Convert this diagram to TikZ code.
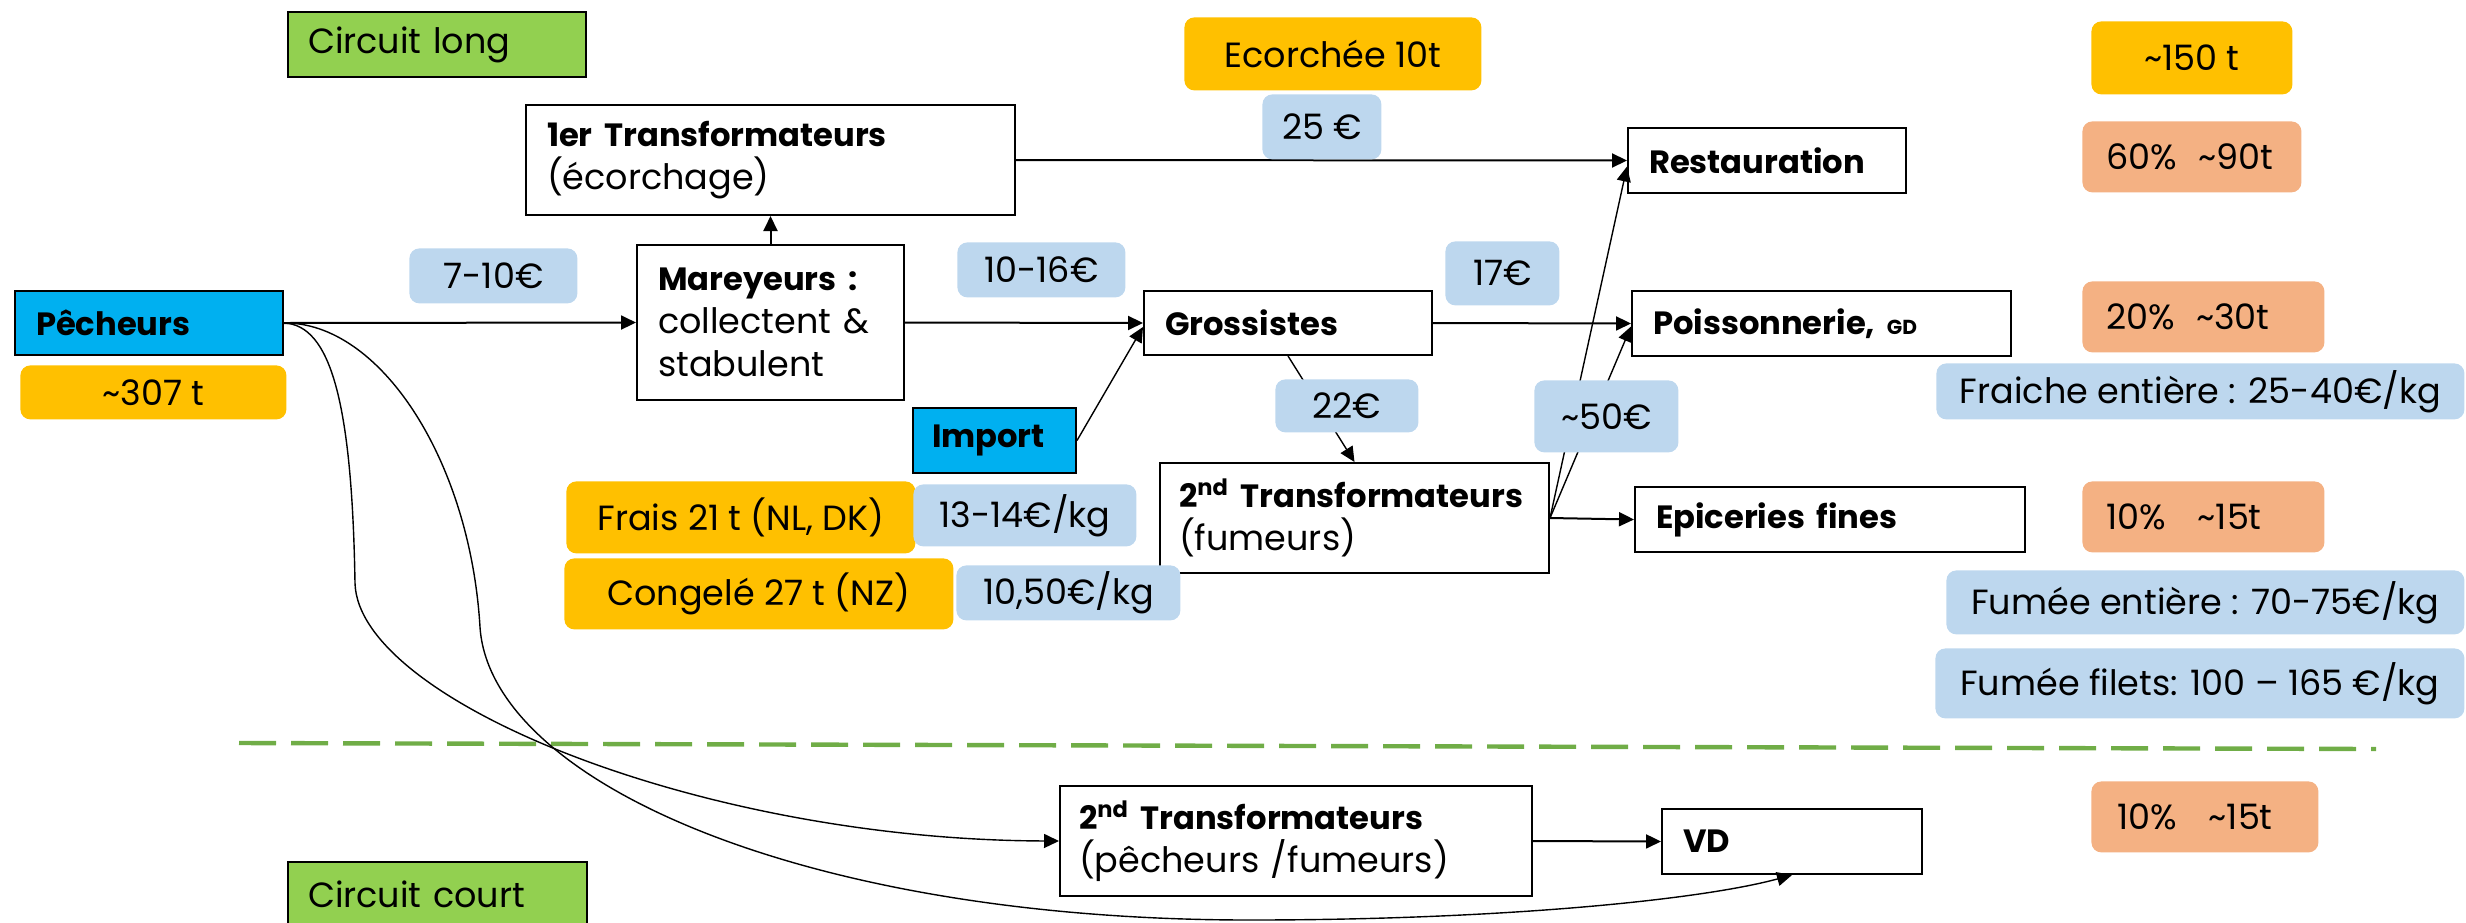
\documentclass[tikz,border=0pt]{standalone}
\usepackage{fontspec}
\setmainfont{Poppins}[BoldFeatures={Scale=0.92}]
\usetikzlibrary{arrows.meta}
\definecolor{corange}{HTML}{FFC000}
\definecolor{cblue}{HTML}{BDD7EE}
\definecolor{csalmon}{HTML}{F4B183}
\definecolor{cgreen}{HTML}{92D050}
\definecolor{ccyan}{HTML}{00B0F0}
\definecolor{cdash}{HTML}{70AD47}
\begin{document}
\begin{tikzpicture}[x=0.5pt,y=-0.5pt,
  font=\fontsize{17.5}{21.5}\selectfont,
  wbox/.style={draw=black, line width=1pt, fill=white, anchor=north west, inner xsep=10.5pt, inner ysep=0pt, align=left},
  cyanbox/.style={wbox, fill=ccyan},
  greenbox/.style={wbox, fill=cgreen, inner xsep=10pt},
  lab/.style={fill=#1, rounded corners=5pt, anchor=north west, inner sep=0pt, align=center},
  plab/.style={fill=csalmon, rounded corners=5pt, anchor=north west, inner ysep=0pt, inner xsep=12pt, align=left},
  main/.style={line width=1pt, -{Triangle[length=7.5pt,width=7pt]}},
  slim/.style={line width=0.7pt, -{Triangle[length=7.5pt,width=7pt]}}
]
\useasboundingbox (0,0) rectangle (2466,922);
\clip (0,0) rectangle (2466,922);

% structural boxes
\node[greenbox, text width=129pt, minimum height=32.5pt] (long) at (287,11) {Circuit long};
\node[wbox, text width=223.5pt, minimum height=55pt] (t1) at (525,104) {\textbf{1er Transformateurs}\\(écorchage)};
\node[wbox, text width=112.5pt, minimum height=77.5pt] (mar) at (636,244) {\textbf{Mareyeurs :}\\collectent \&\\stabulent};
\node[cyanbox, text width=113pt, minimum height=32pt] (pech) at (14,290) {\textbf{Pêcheurs}};
\node[wbox, text width=123pt, minimum height=32pt] (gro) at (1143,290) {\textbf{Grossistes}};
\node[cyanbox, inner xsep=9.5pt, text width=62.5pt, minimum height=32.5pt] (imp) at (912,407) {\textbf{Import}};
\node[wbox, inner xsep=9.5pt, text width=175.5pt, minimum height=55pt] (tr2) at (1159,462) {\mbox{\textbf{2\textsuperscript{nd} Transformateurs}}\\(fumeurs)};
\node[wbox, text width=118pt, minimum height=32.5pt] (rest) at (1627,127) {\textbf{Restauration}};
\node[wbox, text width=168.5pt, minimum height=32.5pt] (poi) at (1631,290) {\textbf{Poissonnerie, {\fontsize{11}{12}\selectfont GD}}};
\node[wbox, text width=174pt, minimum height=32.5pt] (epi) at (1634,486) {\textbf{Epiceries fines}};
\node[wbox, inner xsep=9.5pt, text width=217pt, minimum height=55pt] (tr2p) at (1059,785) {\mbox{\textbf{2\textsuperscript{nd} Transformateurs}}\\(pêcheurs /fumeurs)};
\node[wbox, text width=109pt, minimum height=32.5pt] (vd) at (1661,808) {\textbf{VD}};
\node[greenbox, text width=129.5pt, minimum height=32.5pt] (court) at (287,861) {Circuit court};

% dashed separator
\coordinate (dl) at (239,743);
\coordinate (dr) at (2376,749);
\draw[cdash, line width=2.2pt, dash pattern=on 18.5pt off 7.5pt] (dl) -- (dr);

% connectors
\draw[main] (pech.east) -- (mar.west);
\draw[main] (mar.north) -- (t1.south);
\draw[main] (t1.east) -- (rest.west);
\draw[main] (mar.east) -- (gro.west);
\draw[main] (gro.east) -- (poi.west);
\draw[slim] (imp.east) -- ([yshift=-2pt]gro.west);
\draw[slim] (gro.south) -- (tr2.north);
\draw[slim] (tr2.east) -- ([yshift=-3pt]rest.west);
\draw[slim] (tr2.east) -- ([yshift=-1.5pt]poi.west);
\draw[main] (tr2.east) -- (epi.west);
\draw[main] (tr2p.east) -- (vd.west);
\draw[slim] (pech.east) .. controls (330,325) and (352,400) .. (355,583)
  .. controls (358,700) and (700,840) .. (tr2p.west);
\draw[slim] (pech.east) .. controls (380,322) and (470,460) .. (480,627)
  .. controls (490,780) and (800,920) .. (1250,920)
  .. controls (1500,920) and (1700,900) .. (vd.south);

% labels
\node[lab=corange, minimum width=133pt, minimum height=27pt] (t307) at (20,365) {\textasciitilde307 t};
\node[lab=cblue, minimum width=84pt, minimum height=27.5pt] (p710) at (409,248) {7-10€};
\node[lab=cblue, minimum width=84pt, minimum height=27.5pt] (p1016) at (957,242) {10-16€};
\node[lab=cblue, minimum width=57pt, minimum height=32pt] (p17) at (1445,241) {17€};
\node[lab=cblue, minimum width=71.5pt, minimum height=26.5pt] (p22) at (1275,379) {22€};
\node[lab=cblue, minimum width=72pt, minimum height=36pt] (p50) at (1534,380) {\textasciitilde50€};
\node[lab=corange, minimum width=148.5pt, minimum height=36.5pt] (ecor) at (1184,17) {Ecorchée 10t};
\node[lab=cblue, minimum width=59.5pt, minimum height=32.5pt] (p25) at (1262,94) {25 €};
\node[lab=corange, minimum width=100.5pt, minimum height=36.5pt] (t150) at (2091,21) {\textasciitilde150 t};
\node[plab, text width=85.5pt, minimum height=35.5pt] (s60) at (2082,121) {60\%\hspace{0.6em}\textasciitilde90t};
\node[plab, text width=97pt, minimum height=35.5pt] (s20) at (2082,281) {20\%\hspace{0.6em}\textasciitilde30t};
\node[plab, text width=97pt, minimum height=35.5pt] (s10a) at (2082,481) {10\%\hspace{0.9em}\textasciitilde15t};
\node[plab, inner xsep=13pt, text width=87.5pt, minimum height=35.5pt] (s10b) at (2091,781) {10\%\hspace{0.9em}\textasciitilde15t};
\node[lab=cblue, minimum width=264pt, minimum height=28pt] (fraiche) at (1936,363) {Fraiche entière : 25-40€/kg};
\node[lab=cblue, minimum width=259pt, minimum height=32pt] (fum1) at (1946,570) {Fumée entière : 70-75€/kg};
\node[lab=cblue, minimum width=264.5pt, minimum height=35pt] (fum2) at (1935,648) {Fumée filets: 100 – 165 €/kg};
\node[lab=corange, minimum width=174.5pt, minimum height=36pt] (frais) at (566,481) {Frais 21 t (NL, DK)};
\node[lab=cblue, minimum width=111.5pt, minimum height=31pt] (p1314) at (913,484) {13-14€/kg};
\node[lab=corange, minimum width=194.5pt, minimum height=35.5pt] (cong) at (564,558) {Congelé 27 t (NZ)};
\node[lab=cblue, minimum width=112pt, minimum height=27.5pt] (p1050) at (956,565) {\raisebox{-3pt}{10,50€/kg}};
\end{tikzpicture}
\end{document}
